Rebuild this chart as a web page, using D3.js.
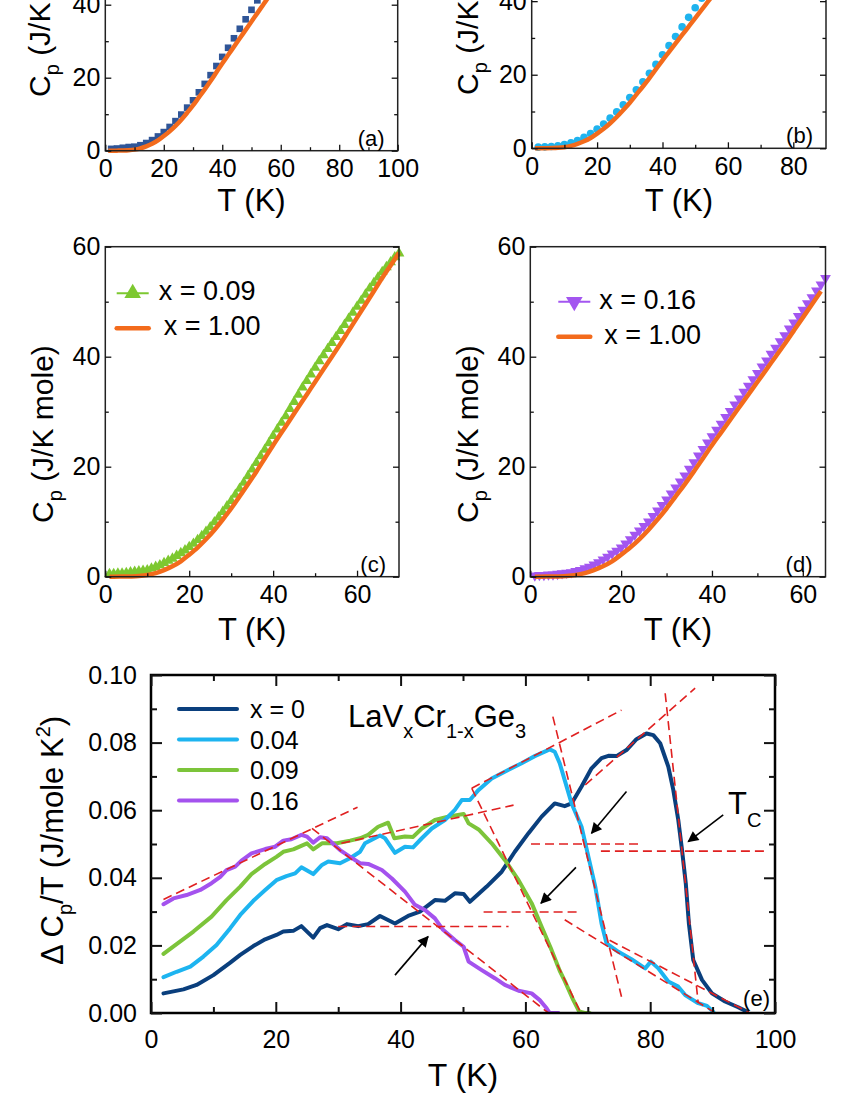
<!DOCTYPE html>
<html>
<head>
<meta charset="utf-8">
<script src="https://cdn.jsdelivr.net/npm/d3@7"></script>
<style>
  body { margin: 0; background: #fff; }
</style>
</head>
<body>
<div id="chart"></div>
<script>
var FONT = "'Liberation Sans', Arial, sans-serif";

// reference compound x = 1.00 (orange line, panels a-d)
var refT  = [1, 2, 4, 6, 8, 10, 12, 14, 16, 18, 20, 22, 24, 26, 28, 30, 32, 34, 36, 38, 40, 42, 44, 46, 48, 50, 52, 54, 56, 58, 60, 62, 64, 66, 68, 70, 75, 80, 85, 90, 95, 100];
var refCp = [0, 0, 0.02, 0.05, 0.12, 0.3, 0.65, 1.2, 1.9, 2.8, 4.0, 5.3, 6.8, 8.5, 10.4, 12.4, 14.6, 16.8, 19.1, 21.5, 23.9, 26.2, 28.5, 30.8, 33.1, 35.4, 37.7, 40.0, 42.3, 44.7, 47.1, 49.5, 51.9, 54.3, 56.6, 58.9, 64.3, 69.3, 73.8, 77.9, 81.5, 84.8];

// panel (a) x = 0, squares
var aT  = [2, 4, 6, 8, 10, 12, 14, 16, 18, 20, 22, 24, 26, 28, 30, 32, 34, 36, 38, 40, 42, 44, 46, 48, 50, 52, 54, 56, 58, 60];
var aCp = [0.5, 0.6, 0.8, 1.0, 1.1, 1.5, 2.1, 2.9, 3.9, 5.1, 6.5, 8.1, 9.9, 11.8, 13.8, 16.0, 18.3, 20.7, 23.2, 25.7, 28.2, 30.8, 33.4, 36.0, 38.6, 41.2, 43.8, 46.4, 49.0, 51.6];

// panel (b) x = 0.04, circles
var bT  = [2, 4, 6, 8, 10, 12, 14, 16, 18, 20, 22, 24, 26, 28, 30, 32, 34, 36, 38, 40, 42, 44, 46, 48, 50, 52, 54, 56, 58, 60];
var bCp = [0.3, 0.4, 0.5, 0.7, 1.0, 1.5, 2.1, 3.0, 4.0, 5.2, 6.6, 8.2, 9.9, 11.8, 13.8, 15.9, 18.1, 20.4, 22.8, 25.4, 27.9, 30.4, 33.0, 35.6, 38.2, 40.8, 43.4, 46.0, 48.6, 51.2];

// panel (c) x = 0.09, up triangles
var cT  = [1, 2, 3, 4, 5, 6, 7, 8, 9, 10, 11, 12, 13, 14, 15, 16, 17, 18, 19, 20, 21, 22, 23, 24, 25, 26, 27, 28, 29, 30, 31, 32, 33, 34, 35, 36, 37, 38, 39, 40, 41, 42, 43, 44, 45, 46, 47, 48, 49, 50, 51, 52, 53, 54, 55, 56, 57, 58, 59, 60, 61, 62, 63, 64, 65, 66, 67, 68, 69, 70];
var cCp = [0.5, 0.5, 0.6, 0.6, 0.7, 0.8, 0.9, 1.0, 1.1, 1.2, 1.5, 1.8, 2.1, 2.5, 2.9, 3.3, 3.8, 4.3, 4.8, 5.4, 6.0, 6.7, 7.4, 8.2, 9.0, 9.9, 10.8, 11.8, 12.8, 13.8, 14.9, 16.0, 17.1, 18.3, 19.5, 20.7, 21.9, 23.1, 24.3, 25.6, 26.8, 28.0, 29.2, 30.5, 31.8, 33.1, 34.4, 35.6, 36.8, 38.0, 39.2, 40.3, 41.4, 42.5, 43.6, 44.7, 45.8, 46.9, 48.0, 49.1, 50.2, 51.3, 52.4, 53.4, 54.4, 55.4, 56.3, 57.2, 58.1, 58.8];

// panel (d) x = 0.16, down triangles
var dT  = [1, 2, 3, 4, 5, 6, 7, 8, 9, 10, 11, 12, 13, 14, 15, 16, 17, 18, 19, 20, 21, 22, 23, 24, 25, 26, 27, 28, 29, 30, 31, 32, 33, 34, 35, 36, 37, 38, 39, 40, 41, 42, 43, 44, 45, 46, 47, 48, 49, 50, 51, 52, 53, 54, 55, 56, 57, 58, 59, 60, 61, 62, 63, 64, 65];
var dCp = [0.2, 0.3, 0.3, 0.4, 0.4, 0.5, 0.6, 0.7, 0.8, 1.0, 1.2, 1.5, 1.8, 2.2, 2.6, 3.1, 3.6, 4.2, 4.7, 5.3, 6.0, 6.8, 7.6, 8.4, 9.2, 10.0, 11.0, 12.0, 13.0, 14.0, 15.1, 16.2, 17.3, 18.4, 19.6, 20.8, 22.0, 23.2, 24.4, 25.5, 26.7, 27.8, 29.0, 30.1, 31.3, 32.4, 33.6, 34.7, 35.9, 37.0, 38.2, 39.3, 40.5, 41.6, 42.8, 43.9, 45.1, 46.2, 47.4, 48.5, 49.7, 50.8, 52.0, 53.1, 54.3];

// panel (e) magnetic part dCp/T
var e0T = [2.0, 5.2, 7.3, 10.0, 12.7, 14.3, 16.4, 18.3, 20.1, 21.2, 22.8, 24.1, 26.0, 27.1, 28.2, 30.0, 31.4, 33.2, 34.8, 36.7, 39.1, 41.2, 43.1, 45.5, 47.1, 48.7, 50.1, 51.1, 53.8, 56.2, 58.3, 60.5, 62.6, 64.7, 66.3, 67.4, 69.0, 70.6, 72.2, 73.3, 74.6, 76.2, 77.8, 79.4, 80.5, 81.6, 82.9, 83.7, 84.5, 85.1, 85.7, 86.2, 86.9, 88.3, 89.9, 92.0, 94.1, 95.5];
var e0Y = [0.0058, 0.0070, 0.0083, 0.0112, 0.0149, 0.0172, 0.0198, 0.0218, 0.0231, 0.0241, 0.0243, 0.0257, 0.0223, 0.0251, 0.0260, 0.0248, 0.0263, 0.0257, 0.0263, 0.0287, 0.0265, 0.0287, 0.0300, 0.0334, 0.0332, 0.0354, 0.0352, 0.0329, 0.0374, 0.0418, 0.0477, 0.0532, 0.0581, 0.0620, 0.0612, 0.0620, 0.0670, 0.0724, 0.0754, 0.0761, 0.0760, 0.0778, 0.0810, 0.0827, 0.0822, 0.0798, 0.0729, 0.0660, 0.0571, 0.0482, 0.0384, 0.0265, 0.0157, 0.0098, 0.0058, 0.0034, 0.0017, 0.0004];

var e04T = [2.0, 4.1, 6.3, 8.4, 10.5, 12.7, 14.3, 16.4, 18.3, 20.1, 21.7, 23.1, 24.1, 26.0, 27.4, 28.4, 30.3, 31.9, 33.5, 34.3, 36.7, 37.5, 39.1, 40.7, 42.0, 43.4, 45.0, 47.1, 48.7, 49.8, 51.1, 52.5, 54.6, 56.7, 59.4, 61.5, 63.9, 64.7, 65.5, 66.3, 67.4, 69.0, 70.1, 71.2, 72.2, 73.0, 74.9, 77.0, 79.2, 80.1, 81.3, 82.9, 84.5, 85.6, 87.7, 89.1, 90.1];
var e04Y = [0.0106, 0.0122, 0.0137, 0.0167, 0.0201, 0.0251, 0.0290, 0.0332, 0.0364, 0.0393, 0.0405, 0.0413, 0.0431, 0.0411, 0.0438, 0.0448, 0.0443, 0.0458, 0.0477, 0.0502, 0.0525, 0.0517, 0.0474, 0.0492, 0.0490, 0.0517, 0.0546, 0.0571, 0.0601, 0.0630, 0.0630, 0.0660, 0.0694, 0.0714, 0.0739, 0.0760, 0.0780, 0.0773, 0.0739, 0.0689, 0.0620, 0.0551, 0.0462, 0.0374, 0.0265, 0.0206, 0.0181, 0.0159, 0.0132, 0.0152, 0.0132, 0.0093, 0.0078, 0.0053, 0.0029, 0.0021, 0.0004];

var e09T = [2.0, 4.1, 6.8, 9.7, 12.1, 14.3, 16.1, 18.3, 20.1, 21.2, 22.8, 25.0, 26.0, 27.4, 29.8, 31.9, 33.5, 34.8, 36.4, 38.0, 39.0, 40.7, 42.0, 43.4, 45.5, 47.6, 50.1, 50.9, 52.5, 54.6, 56.7, 58.9, 61.0, 62.6, 64.2, 65.5, 66.3, 67.5, 68.6, 69.5, 70.3];
var e09Y = [0.0175, 0.0204, 0.0241, 0.0285, 0.0334, 0.0374, 0.0411, 0.0441, 0.0462, 0.0477, 0.0484, 0.0502, 0.0484, 0.0502, 0.0502, 0.0510, 0.0517, 0.0527, 0.0551, 0.0563, 0.0517, 0.0522, 0.0521, 0.0546, 0.0571, 0.0581, 0.0589, 0.0561, 0.0543, 0.0502, 0.0453, 0.0393, 0.0325, 0.0255, 0.0186, 0.0125, 0.0095, 0.0045, 0.0005, 0.0, 0.0];

var e16T = [2.0, 3.6, 5.7, 7.9, 9.7, 11.1, 12.1, 13.5, 14.5, 16.1, 18.3, 19.9, 21.2, 22.5, 24.1, 25.0, 26.0, 27.1, 28.2, 30.3, 31.9, 33.5, 34.8, 37.0, 38.6, 40.7, 42.3, 43.9, 45.5, 46.8, 48.7, 50.1, 50.9, 53.0, 55.1, 56.7, 58.9, 61.0, 62.3, 63.4, 63.9, 65.3];
var e16Y = [0.0322, 0.0339, 0.0349, 0.0364, 0.0384, 0.0403, 0.0423, 0.0433, 0.0451, 0.0472, 0.0485, 0.0492, 0.0510, 0.0514, 0.0527, 0.0522, 0.0504, 0.0520, 0.0517, 0.0482, 0.0462, 0.0443, 0.0441, 0.0423, 0.0398, 0.0359, 0.0320, 0.0305, 0.0280, 0.0246, 0.0216, 0.0196, 0.0152, 0.0127, 0.0103, 0.0083, 0.0066, 0.0058, 0.0038, 0.0014, 0.0, 0.0];

var eLabels = ["x = 0", "0.04", "0.09", "0.16"];
var eColors = ["#0a3f7d", "#1db4f0", "#7cc43a", "#a452ee"];

// red dashed construction lines [T1, y1, T2, y2]
var guideLines = [
  [2.0, 0.0336, 33.1, 0.0609],
  [25.8, 0.0546, 63.7, 0.0],
  [30.0, 0.0256, 57.3, 0.0256],
  [30.5, 0.0502, 58.1, 0.0615],
  [51.4, 0.0665, 75.4, 0.0896],
  [51.4, 0.0665, 68.9, 0.0],
  [64.4, 0.0877, 75.4, 0.0048],
  [66.3, 0.0276, 90.1, 0.0004],
  [69.6, 0.0675, 87.2, 0.0961],
  [82.4, 0.0946, 87.7, 0.0029],
  [73.5, 0.0215, 96.0, 0.0],
  [60.9, 0.0500, 78.4, 0.0500],
  [72.1, 0.0479, 98.9, 0.0479],
  [53.3, 0.0299, 68.5, 0.0299]
];

// arrows pointing at Tc [fromT, fromY, toT, toY]
var tcArrows = [
  [91.7, 0.0586, 86.1, 0.0507],
  [76.2, 0.0655, 70.6, 0.0532],
  [68.1, 0.0431, 62.5, 0.0325],
  [39.1, 0.0112, 44.4, 0.0226]
];

var svg = d3.select("#chart").append("svg")
  .attr("width", 850)
  .attr("height", 1100)
  .attr("font-family", FONT);

var defs = svg.append("defs");
defs.append("marker")
  .attr("id", "arrowHead")
  .attr("viewBox", "0 0 10 10")
  .attr("refX", 9).attr("refY", 5)
  .attr("markerWidth", 14).attr("markerHeight", 11)
  .attr("markerUnits", "userSpaceOnUse")
  .attr("orient", "auto")
  .append("path").attr("d", "M0,0 L10,5 L0,10 Z").attr("fill", "#000");

var ORANGE = "#f36b1c";

// one tick group; inward ticks, optional labels
function addAxis(g, axisFn, scale, pos, vals, size, fmt, pad, fs, sw) {
  var a = axisFn(scale).tickValues(vals).tickSizeInner(-size).tickSizeOuter(0).tickPadding(pad)
    .tickFormat(fmt ? fmt : function() { return ""; });
  var ag = g.append("g").attr("transform", pos).call(a)
    .attr("font-size", fs).attr("font-family", FONT);
  ag.select(".domain").remove();
  ag.selectAll("line").attr("stroke", "#111").attr("stroke-width", sw);
  ag.selectAll("text").attr("fill", "#000");
  return ag;
}

function drawCpPanel(c) {
  var x = d3.scaleLinear().domain(c.xDomain).range(c.xRange);
  var y = d3.scaleLinear().domain(c.yDomain).range(c.yRange);
  var L = c.xRange[0], R = c.xRange[1], B = c.yRange[0], T = c.yRange[1];
  var g = svg.append("g");

  defs.append("clipPath").attr("id", "clip" + c.tag)
    .append("rect").attr("x", L).attr("y", T).attr("width", R - L).attr("height", B - T);
  var plot = g.append("g").attr("clip-path", "url(#clip" + c.tag + ")");

  var sym = d3.symbol().type(c.symbol).size(c.symSize);
  plot.selectAll("path.pt")
    .data(d3.zip(c.t, c.cp))
    .enter().append("path")
    .attr("class", "pt")
    .attr("transform", d => `translate(${x(d[0])},${y(d[1])})` + (c.flip ? " rotate(180)" : ""))
    .attr("d", sym)
    .attr("fill", c.color);

  var line = d3.line().x(d => x(d[0])).y(d => y(d[1])).curve(d3.curveMonotoneX);
  plot.append("path")
    .datum(d3.zip(refT, refCp).filter(d => d[0] <= c.xDomain[1]))
    .attr("fill", "none")
    .attr("stroke", ORANGE)
    .attr("stroke-width", 4.5)
    .attr("d", line);

  // frame and ticks
  g.append("rect").attr("x", L).attr("y", T).attr("width", R - L).attr("height", B - T)
    .attr("fill", "none").attr("stroke", "#222").attr("stroke-width", 1.5);
  addAxis(g, d3.axisBottom, x, `translate(0,${B})`, c.xTicks, 6, d3.format("d"), 9, 25, 1.3);
  addAxis(g, d3.axisBottom, x, `translate(0,${B})`, c.xMinor, 3.5, null, 0, 25, 1.3);
  addAxis(g, d3.axisLeft, y, `translate(${L},0)`, c.yLabeled, 6, d3.format("d"), 5, 25, 1.3);
  addAxis(g, d3.axisLeft, y, `translate(${L},0)`, c.yMinor, 3.5, null, 0, 25, 1.3);
  addAxis(g, d3.axisRight, y, `translate(${R},0)`, c.yLabeled, 6, null, 0, 25, 1.3);
  addAxis(g, d3.axisRight, y, `translate(${R},0)`, c.yMinor, 3.5, null, 0, 25, 1.3);

  // axis titles
  g.append("text")
    .attr("x", (L + R) / 2).attr("y", c.xLabelY)
    .attr("text-anchor", "middle").attr("font-size", 31)
    .text("T (K)");

  var yl = g.append("text")
    .attr("transform", `translate(${c.yLabelX},${c.yLabelY}) rotate(-90)`)
    .attr("font-size", 30);
  yl.append("tspan").text("C");
  yl.append("tspan").attr("font-size", 20).attr("dy", 9).text("p");
  yl.append("tspan").attr("dy", -9).text(" (J/K mole)");

  g.append("text")
    .attr("x", R - 13).attr("y", B - 5)
    .attr("text-anchor", "end").attr("font-size", 22)
    .text(c.tag);

  if (c.legend) {
    var lg = c.legend;
    g.append("line").attr("x1", lg.x).attr("x2", lg.x + 32)
      .attr("y1", lg.y).attr("y2", lg.y)
      .attr("stroke", c.color).attr("stroke-width", 2);
    g.append("path")
      .attr("transform", `translate(${lg.x + 16},${lg.y})` + (c.flip ? " rotate(180)" : ""))
      .attr("d", d3.symbol().type(c.symbol).size(120))
      .attr("fill", c.color);
    g.append("text").attr("x", lg.x + lg.dx1).attr("y", lg.y + 7)
      .attr("font-size", 27).text(lg.label);
    g.append("line").attr("x1", lg.x).attr("x2", lg.x + 32)
      .attr("y1", lg.y + 35).attr("y2", lg.y + 35)
      .attr("stroke", ORANGE).attr("stroke-width", 4.5).attr("stroke-linecap", "round");
    g.append("text").attr("x", lg.x + lg.dx2).attr("y", lg.y + 42)
      .attr("font-size", 27).text("x = 1.00");
  }
}

// panels (a) and (b) run above the top edge of the page; only their lower part shows
drawCpPanel({
  tag: "(a)", t: aT, cp: aCp, color: "#2f5597", symbol: d3.symbolSquare, symSize: 44,
  xDomain: [0, 100], xRange: [105.3, 397.7], yDomain: [0, 80], yRange: [150.7, -141.3],
  xTicks: [0, 20, 40, 60, 80, 100], xMinor: [10, 30, 50, 70, 90],
  yLabeled: [0, 20, 40], yMinor: [10, 30],
  xLabelY: 211, yLabelX: 50, yLabelY: 97
});

drawCpPanel({
  tag: "(b)", t: bT, cp: bCp, color: "#1fb3ee", symbol: d3.symbolCircle, symSize: 46,
  xDomain: [0, 90], xRange: [531.7, 826], yDomain: [0, 80], yRange: [148.3, -146],
  xTicks: [0, 20, 40, 60, 80], xMinor: [10, 30, 50, 70],
  yLabeled: [0, 20, 40], yMinor: [10, 30],
  xLabelY: 211, yLabelX: 478, yLabelY: 95
});

drawCpPanel({
  tag: "(c)", t: cT, cp: cCp, color: "#7dc830", symbol: d3.symbolTriangle, symSize: 50,
  xDomain: [0, 70], xRange: [105.3, 399], yDomain: [0, 60], yRange: [576.7, 246.7],
  xTicks: [0, 20, 40, 60], xMinor: [10, 30, 50],
  yLabeled: [0, 20, 40, 60], yMinor: [10, 30, 50],
  xLabelY: 640, yLabelX: 53, yLabelY: 523,
  legend: { x: 116.7, y: 293.3, label: "x = 0.09", dx1: 42, dx2: 47 }
});

drawCpPanel({
  tag: "(d)", t: dT, cp: dCp, color: "#a356f0", symbol: d3.symbolTriangle, symSize: 50, flip: true,
  xDomain: [0, 65], xRange: [530.3, 825.5], yDomain: [0, 60], yRange: [576.7, 246.7],
  xTicks: [0, 20, 40, 60], xMinor: [10, 30, 50],
  yLabeled: [0, 20, 40, 60], yMinor: [10, 30, 50],
  xLabelY: 640, yLabelX: 478, yLabelY: 523,
  legend: { x: 558.3, y: 301.7, label: "x = 0.16", dx1: 41, dx2: 46 }
});

// ---------- panel (e) ----------
var eL = 151, eR = 775, eB = 1013, eTop = 675;
var ex = d3.scaleLinear().domain([0, 100]).range([eL, eR]);
var ey = d3.scaleLinear().domain([0, 0.10]).range([eB, eTop]);
var ge = svg.append("g");

defs.append("clipPath").attr("id", "clipE")
  .append("rect").attr("x", eL).attr("y", eTop).attr("width", eR - eL).attr("height", eB - eTop);
var pe = ge.append("g").attr("clip-path", "url(#clipE)");

var eLine = d3.line().x(d => ex(d[0])).y(d => ey(d[1]));
var eSeries = [d3.zip(e0T, e0Y), d3.zip(e04T, e04Y), d3.zip(e09T, e09Y), d3.zip(e16T, e16Y)];
var drawOrder = [0, 2, 1, 3];
drawOrder.forEach(function(i) {
  pe.append("path")
    .datum(eSeries[i])
    .attr("fill", "none")
    .attr("stroke", eColors[i])
    .attr("stroke-width", 4)
    .attr("stroke-linejoin", "round")
    .attr("stroke-linecap", "round")
    .attr("d", eLine);
});

pe.selectAll("line.guide")
  .data(guideLines)
  .enter().append("line")
  .attr("class", "guide")
  .attr("x1", d => ex(d[0])).attr("y1", d => ey(d[1]))
  .attr("x2", d => ex(d[2])).attr("y2", d => ey(d[3]))
  .attr("stroke", "#e02020")
  .attr("stroke-width", 1.6)
  .attr("stroke-dasharray", "9,5");

ge.selectAll("line.arrow")
  .data(tcArrows)
  .enter().append("line")
  .attr("class", "arrow")
  .attr("x1", d => ex(d[0])).attr("y1", d => ey(d[1]))
  .attr("x2", d => ex(d[2])).attr("y2", d => ey(d[3]))
  .attr("stroke", "#000")
  .attr("stroke-width", 1.6)
  .attr("marker-end", "url(#arrowHead)");

// frame + ticks
ge.append("rect").attr("x", eL).attr("y", eTop).attr("width", eR - eL).attr("height", eB - eTop)
  .attr("fill", "none").attr("stroke", "#000").attr("stroke-width", 2.5);
var exMajor = [0, 20, 40, 60, 80, 100], exMinor = [10, 30, 50, 70, 90];
var eyMajor = [0, 0.02, 0.04, 0.06, 0.08, 0.10], eyMinor = [0.01, 0.03, 0.05, 0.07, 0.09];
addAxis(ge, d3.axisBottom, ex, `translate(0,${eB})`, exMajor, 11, d3.format("d"), 17, 25, 2);
addAxis(ge, d3.axisBottom, ex, `translate(0,${eB})`, exMinor, 6, null, 0, 25, 2);
addAxis(ge, d3.axisTop, ex, `translate(0,${eTop})`, exMajor, 11, null, 0, 25, 2);
addAxis(ge, d3.axisTop, ex, `translate(0,${eTop})`, exMinor, 6, null, 0, 25, 2);
addAxis(ge, d3.axisLeft, ey, `translate(${eL},0)`, eyMajor, 11, d3.format(".2f"), 14, 25, 2);
addAxis(ge, d3.axisLeft, ey, `translate(${eL},0)`, eyMinor, 6, null, 0, 25, 2);
addAxis(ge, d3.axisRight, ey, `translate(${eR},0)`, eyMajor, 11, null, 0, 25, 2);
addAxis(ge, d3.axisRight, ey, `translate(${eR},0)`, eyMinor, 6, null, 0, 25, 2);

ge.append("text")
  .attr("x", (eL + eR) / 2).attr("y", 1086)
  .attr("text-anchor", "middle").attr("font-size", 32)
  .text("T (K)");

var eyl = ge.append("text")
  .attr("transform", "translate(63,965) rotate(-90)")
  .attr("font-size", 31);
eyl.append("tspan").text("\u0394 C");
eyl.append("tspan").attr("font-size", 20).attr("dy", 9).text("p");
eyl.append("tspan").attr("dy", -9).text("/T (J/mole K");
eyl.append("tspan").attr("font-size", 20).attr("dy", -13).text("2");
eyl.append("tspan").attr("dy", 13).text(")");

// legend
eLabels.forEach(function(lab, i) {
  var ly = 709 + i * 30.5;
  ge.append("line").attr("x1", 179).attr("x2", 237).attr("y1", ly).attr("y2", ly)
    .attr("stroke", eColors[i]).attr("stroke-width", 4).attr("stroke-linecap", "round");
  ge.append("text").attr("x", 250).attr("y", ly + 9).attr("font-size", 25).text(lab);
});

// compound formula
var title = ge.append("text").attr("x", 348).attr("y", 727).attr("font-size", 31);
title.append("tspan").text("LaV");
title.append("tspan").attr("font-size", 20).attr("dy", 11).text("x");
title.append("tspan").attr("dy", -11).text("Cr");
title.append("tspan").attr("font-size", 20).attr("dy", 11).text("1-x");
title.append("tspan").attr("dy", -11).text("Ge");
title.append("tspan").attr("font-size", 20).attr("dy", 11).text("3");

var tc = ge.append("text").attr("x", 728).attr("y", 814).attr("font-size", 31);
tc.append("tspan").text("T");
tc.append("tspan").attr("font-size", 20).attr("dy", 13).text("C");

ge.append("text").attr("x", eR - 5).attr("y", eB - 7)
  .attr("text-anchor", "end").attr("font-size", 22).text("(e)");
</script>
</body>
</html>
